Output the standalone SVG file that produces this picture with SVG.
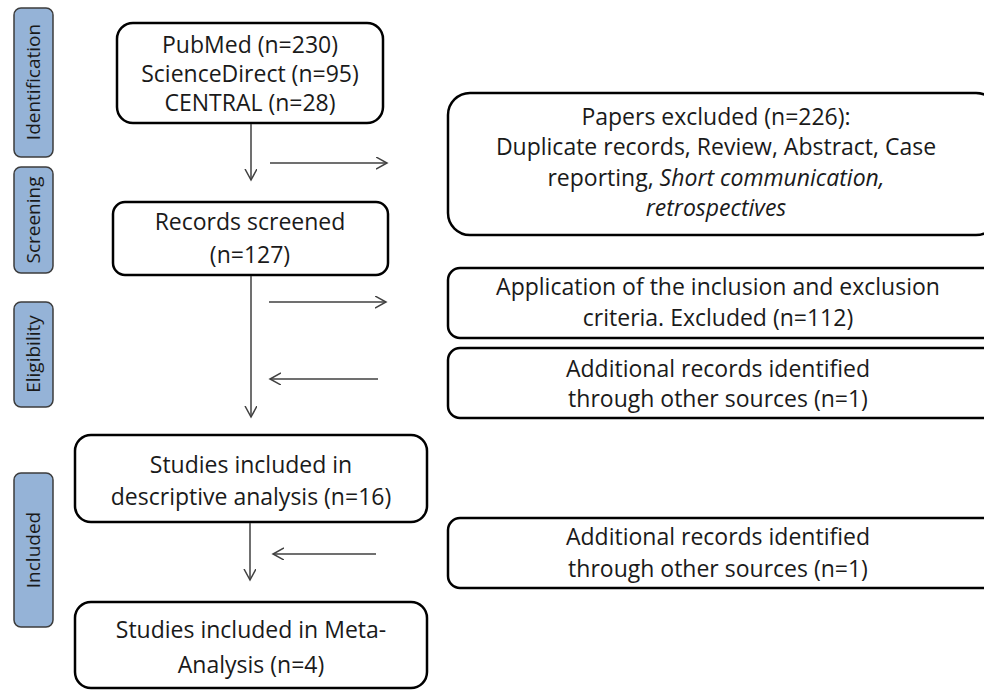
<svg xmlns="http://www.w3.org/2000/svg" width="984" height="690" viewBox="0 0 984 690">
<style>
.box{fill:#fff;stroke:#000;stroke-width:2.5}
.side{fill:#95b3d7;stroke:#3c3c3c;stroke-width:1.5}
.t{font-family:"Open Sans","Liberation Sans",Arial,sans-serif;font-size:23px;fill:#1a1a1a;text-anchor:middle}
.s{font-family:"Open Sans","Liberation Sans",Arial,sans-serif;font-size:19px;fill:#1a1a1a;text-anchor:middle}
.c{stroke:#404040;stroke-width:1.5;fill:none;marker-end:url(#ah)}
</style>
<defs>
<marker id="ah" markerUnits="userSpaceOnUse" markerWidth="14" markerHeight="14" refX="11" refY="6" orient="auto">
<path d="M0,0 L11,6 L0,12" fill="none" stroke="#404040" stroke-width="1.5"/>
</marker>
</defs>
<rect width="984" height="690" fill="#fff"/>
<g id="side-identification"><rect class="side" x="14" y="8" width="39" height="149" rx="7"/><text class="s" transform="translate(40,82) rotate(-90)">Identification</text></g>
<g id="side-screening"><rect class="side" x="14" y="167" width="39" height="106" rx="7"/><text class="s" transform="translate(40,220) rotate(-90)">Screening</text></g>
<g id="side-eligibility"><rect class="side" x="14" y="302" width="39" height="105" rx="7"/><text class="s" transform="translate(40,354) rotate(-90)">Eligibility</text></g>
<g id="side-included"><rect class="side" x="14" y="473" width="39" height="154" rx="7"/><text class="s" transform="translate(40,550) rotate(-90)">Included</text></g>

<g id="n-sources"><rect class="box" x="117" y="23" width="266" height="100" rx="16"/>
<text class="t" x="250" y="53">PubMed (n=230)</text>
<text class="t" x="250" y="82">ScienceDirect (n=95)</text>
<text class="t" x="250" y="111">CENTRAL (n=28)</text></g>
<g id="n-screened"><rect class="box" x="113" y="202" width="275" height="73" rx="12"/>
<text class="t" x="250" y="230">Records screened</text>
<text class="t" x="250" y="263">(n=127)</text></g>
<g id="n-excluded"><rect class="box" x="448" y="93" width="550" height="142" rx="22"/>
<text class="t" x="716" y="125">Papers excluded (n=226):</text>
<text class="t" x="716" y="155">Duplicate records, Review, Abstract, Case</text>
<text class="t" x="716" y="186">reporting, <tspan font-style="italic">Short communication,</tspan></text>
<text class="t" x="716" y="216" font-style="italic">retrospectives</text></g>
<g id="n-criteria"><rect class="box" x="448" y="268" width="550" height="70" rx="12"/>
<text class="t" x="718" y="295">Application of the inclusion and exclusion</text>
<text class="t" x="718" y="326">criteria. Excluded (n=112)</text></g>
<g id="n-additional1"><rect class="box" x="448" y="348" width="550" height="70" rx="12"/>
<text class="t" x="718" y="377">Additional records identified</text>
<text class="t" x="718" y="407">through other sources (n=1)</text></g>
<g id="n-descriptive"><rect class="box" x="75" y="435" width="352" height="87" rx="16"/>
<text class="t" x="251" y="473">Studies included in</text>
<text class="t" x="251" y="505">descriptive analysis (n=16)</text></g>
<g id="n-additional2"><rect class="box" x="448" y="518" width="550" height="70" rx="12"/>
<text class="t" x="718" y="545">Additional records identified</text>
<text class="t" x="718" y="577">through other sources (n=1)</text></g>
<g id="n-meta"><rect class="box" x="75" y="602" width="352" height="86" rx="16"/>
<text class="t" x="251" y="638">Studies included in Meta-</text>
<text class="t" x="251" y="673">Analysis (n=4)</text></g>

<g id="connectors">
<line class="c" x1="251" y1="124" x2="251" y2="180"/>
<line class="c" x1="270" y1="163" x2="387" y2="163"/>
<line class="c" x1="251" y1="276" x2="251" y2="417"/>
<line class="c" x1="269" y1="302" x2="386" y2="302"/>
<line class="c" x1="378" y1="379" x2="270" y2="379"/>
<line class="c" x1="250" y1="523" x2="250" y2="580"/>
<line class="c" x1="376" y1="554" x2="273" y2="554"/>
</g>
</svg>
